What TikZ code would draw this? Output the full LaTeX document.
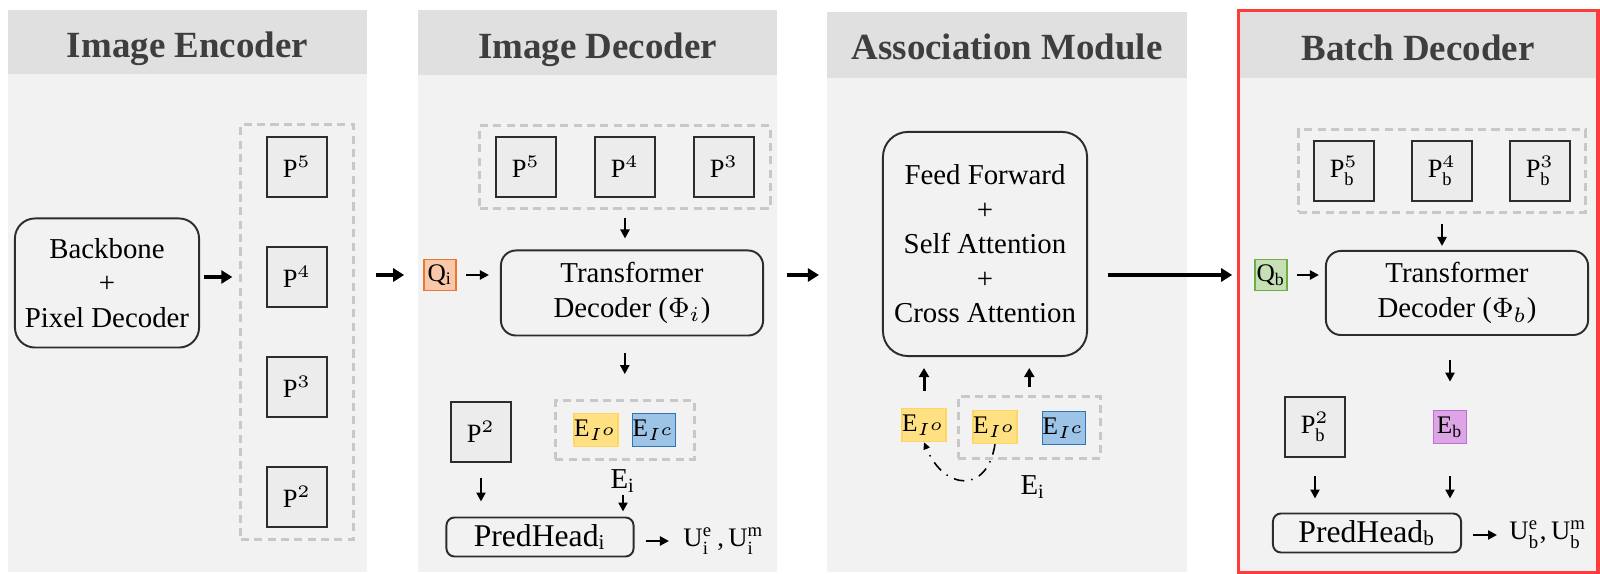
\documentclass[tikz,border=0pt]{standalone}
\usepackage{fontspec}
\setmainfont{Liberation Serif}
\usetikzlibrary{arrows.meta,positioning,fit}
\definecolor{panelbg}{RGB}{242,242,242}
\definecolor{headbg}{RGB}{224,224,224}
\definecolor{headtext}{RGB}{62,62,62}
\definecolor{boxline}{RGB}{45,45,45}
\definecolor{pfill}{RGB}{236,236,236}
\definecolor{dashgray}{RGB}{200,200,200}
\definecolor{qifill}{RGB}{248,200,168}
\definecolor{qiline}{RGB}{232,120,50}
\definecolor{qbfill}{RGB}{197,224,180}
\definecolor{qbline}{RGB}{112,173,71}
\definecolor{yfill}{RGB}{255,224,130}
\definecolor{yline}{RGB}{255,214,100}
\definecolor{bfill}{RGB}{157,195,230}
\definecolor{bline}{RGB}{46,117,182}
\definecolor{pufill}{RGB}{222,165,230}
\definecolor{puline}{RGB}{190,110,210}
\definecolor{redline}{RGB}{255,60,60}

\begin{document}
\begin{tikzpicture}[x=0.01cm,y=-0.01cm,
  hd/.style={font=\bfseries\fontsize{10.5}{12}\selectfont,text=headtext,anchor=base},
  rbox/.style={draw=boxline,fill=panelbg,line width=0.55pt,align=center,inner sep=0pt,font=\fontsize{8.2}{9.8}\selectfont},
  pbox/.style={draw=boxline,fill=pfill,line width=0.65pt,minimum size=0.6cm,inner sep=0pt,font=\fontsize{7.5}{9}\selectfont},
  tok/.style={minimum size=0.33cm,inner sep=0pt,line width=0.45pt,font=\fontsize{7.2}{8}\selectfont},
  grp/.style={draw=dashgray,line width=0.85pt,dash pattern=on 2.3pt off 1.5pt,fit=#1},
  lbl/.style={font=\fontsize{8.2}{9.8}\selectfont,inner sep=0.5pt},
  ulbl/.style={font=\fontsize{7.6}{9}\selectfont,inner sep=0.5pt,anchor=west},
  a/.style={-{Triangle[length=0.09cm,width=0.09cm]},line width=0.7pt},
  ua/.style={-{Triangle[length=0.09cm,width=0.1cm]},line width=0.85pt},
  ba/.style={-{Triangle[length=0.11cm,width=0.13cm]},line width=1.2pt}]
\useasboundingbox (0,0) rectangle (1600,574);
% panels
\foreach \xa/\xb/\ya/\yb in {8/367/10/74,418/777/10/75,827/1187/12/78,1240/1596/12/78}{
  \fill[panelbg] (\xa,\ya) rectangle (\xb,572);
  \fill[headbg] (\xa,\ya) rectangle (\xb,\yb);
}
\draw[redline,line width=1.1pt] (1238.5,10.5) rectangle (1598,572.5);
\node[hd] (hEnc) at (187.5,58) {Image Encoder};
\node[hd] (hDec) at (597.5,58.5) {Image Decoder};
\node[hd] (hAsc) at (1007,60) {Association Module};
\node[hd] (hBat) at (1418,61) {Batch Decoder};

% image encoder
\node[rbox,rounded corners=0.2cm,minimum width=1.84cm,minimum height=1.29cm] (bb) at (107,283) {Backbone\\+\\Pixel Decoder};
\node[pbox] (e5) at (297,167) {P$^5$};
\node[pbox] (e4) at (297,277) {P$^4$};
\node[pbox] (e3) at (297,387) {P$^3$};
\node[pbox] (e2) at (297,497) {P$^2$};
\node[inner xsep=0.25cm,inner ysep=0.11cm,grp={(e5)(e2)}] (eg) {};
\draw[ba,shorten <=0.04cm,shorten >=0.07cm] (bb.east |- e4) -- (eg.west |- e4);

% image decoder
\node[pbox] (d5) at (526,167) {P$^5$};
\node[pbox] (d4) at (625,167) {P$^4$};
\node[pbox] (d3) at (724,167) {P$^3$};
\node[inner xsep=0.15cm,inner ysep=0.1cm,grp={(d5)(d3)}] (dg) {};
\node[tok,draw=qiline,fill=qifill,minimum width=0.32cm,minimum height=0.31cm] (qi) at (440,275) {Q$_{\mathrm{i}}$};
\node[rbox,rounded corners=0.15cm,minimum width=2.62cm,minimum height=0.85cm] (tdi) at (632,293) {Transformer\\Decoder ($\Phi_{i}$)};
\node[pbox] (d2) at (481,432) {P$^2$};
\node[tok,fill=yfill,draw=yline] (eoi) at (596,430) {E$_{I^{o}}$};
\node[tok,fill=bfill,draw=bline] (eci) at (654,430) {E$_{I^{c}}$};
\node[inner xsep=0.18cm,inner ysep=0.12cm,grp={(eoi)(eci)}] (eig) {};
\node[lbl] (ei) at (623,481) {E$_{\mathrm{i}}$};
\node[rbox,rounded corners=0.08cm,minimum width=1.87cm,minimum height=0.39cm,font=\fontsize{9}{10}\selectfont] (phi) at (540,537) {PredHead$_{\mathrm{i}}$};
\node[ulbl] (ui) at (681,541) {U$^{\mathrm{e}}_{\mathrm{i}}$\,,\,U$^{\mathrm{m}}_{\mathrm{i}}$};
\draw[a,shorten <=0.08cm,shorten >=0.11cm] (dg.south) -- (dg.south |- tdi.north);
\draw[a,shorten <=0.09cm,shorten >=0.11cm] (qi.east) -- (qi.east -| tdi.west);
\draw[a,shorten <=0.17cm,shorten >=0.25cm] (tdi.south -| eig) -- (eig.north);
\draw[a,shorten <=0.15cm,shorten >=0.15cm] (d2.south) -- (d2.south |- phi.north);
\draw[a,shorten >=0.05cm] (ei.south) -- (ei.south |- phi.north);
\draw[a,shorten <=0.11cm,shorten >=0.12cm] (phi.east |- ui) -- (ui.west);

% association module
\node[rbox,rounded corners=0.25cm,minimum width=2.04cm,minimum height=2.24cm] (asc) at (985,244) {Feed Forward\\+\\Self Attention\\+\\Cross Attention};
\node[tok,fill=yfill,draw=yline] (eoa) at (924,425) {E$_{I^{o}}$};
\node[tok,fill=yfill,draw=yline] (eob) at (995,427) {E$_{I^{o}}$};
\node[tok,fill=bfill,draw=bline] (eca) at (1064,428) {E$_{I^{c}}$};
\node[inner xsep=0.14cm,inner ysep=0.13cm,grp={(eob)(eca)}] (eag) {};
\node[lbl] (ea) at (1033,487) {E$_{\mathrm{i}}$};
\draw[ua,shorten <=0.17cm,shorten >=0.11cm] (eoa.north) -- (eoa.north |- asc.south);
\draw[ua,shorten <=0.08cm,shorten >=0.11cm] (eag.north) -- (eag.north |- asc.south);
\draw[dash dot,line width=0.45pt,-{Triangle[length=0.07cm,width=0.065cm]}] (eob.south) .. controls +(-8,50) and +(20,48) .. (eoa.south);

% batch decoder
\node[pbox] (b5) at (1344,171) {P$^{5}_{\mathrm{b}}$};
\node[pbox] (b4) at (1442,171) {P$^{4}_{\mathrm{b}}$};
\node[pbox] (b3) at (1540,171) {P$^{3}_{\mathrm{b}}$};
\node[inner xsep=0.14cm,inner ysep=0.1cm,grp={(b5)(b3)}] (bg) {};
\node[tok,draw=qbline,fill=qbfill,minimum width=0.32cm,minimum height=0.31cm] (qb) at (1271,275) {Q$_{\mathrm{b}}$};
\node[rbox,rounded corners=0.15cm,minimum width=2.62cm,minimum height=0.84cm] (tdb) at (1457,293) {Transformer\\Decoder ($\Phi_{b}$)};
\node[pbox] (b2) at (1315,427) {P$^{2}_{\mathrm{b}}$};
\node[tok,fill=pufill,draw=puline] (eb) at (1450,427) {E$_{\mathrm{b}}$};
\node[rbox,rounded corners=0.08cm,minimum width=1.88cm,minimum height=0.39cm,font=\fontsize{9}{10}\selectfont] (phb) at (1367,533) {PredHead$_{\mathrm{b}}$};
\node[ulbl] (ub) at (1507,535) {U$^{\mathrm{e}}_{\mathrm{b}}$,\,U$^{\mathrm{m}}_{\mathrm{b}}$};
\draw[a,shorten <=0.1cm,shorten >=0.04cm] (bg.south) -- (bg.south |- tdb.north);
\draw[a,shorten <=0.09cm,shorten >=0.06cm] (qb.east) -- (qb.east -| tdb.west);
\draw[a,shorten <=0.24cm,shorten >=0.28cm] (eb |- tdb.south) -- (eb.north);
\draw[a,shorten <=0.18cm,shorten >=0.14cm] (b2.south) -- (b2.south |- phb.north);
\draw[a,shorten <=0.32cm,shorten >=0.14cm] (eb.south) -- (eb.south |- phb.north);
\draw[a,shorten <=0.11cm,shorten >=0.1cm] (phb.east |- ub) -- (ub.west);

% between the stages
\draw[ba,shorten <=0.21cm,shorten >=0.19cm] (eg.east |- qi) -- (qi.west);
\draw[ba,shorten <=0.23cm,shorten >=0.63cm] (tdi.east |- qi) -- (asc.west |- qi);
\draw[ba,shorten <=0.2cm,shorten >=0.22cm] (asc.east |- qb) -- (qb.west);
\end{tikzpicture}
\end{document}
